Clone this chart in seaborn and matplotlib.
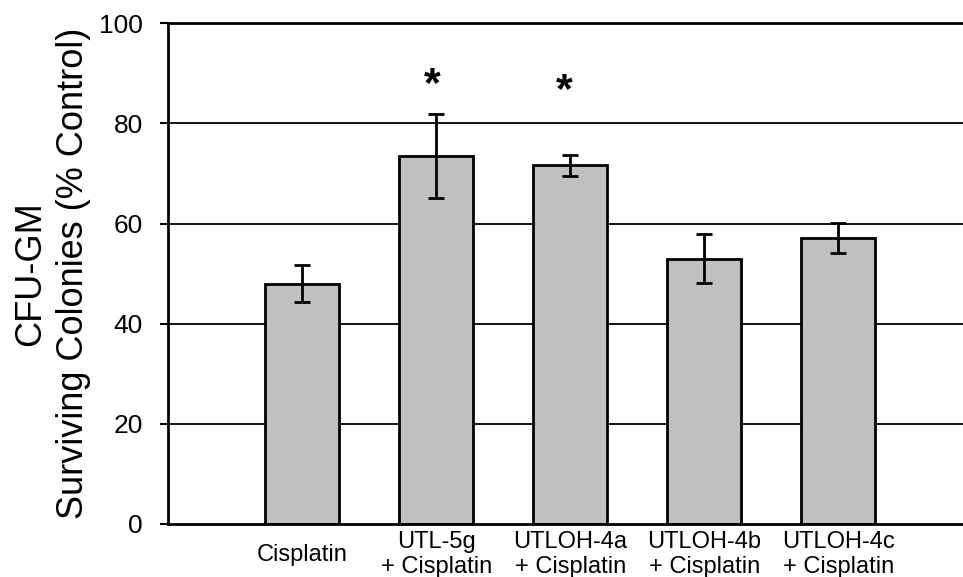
import matplotlib
matplotlib.use("Agg")
import matplotlib.pyplot as plt
import seaborn as sns

# values
groups = ["Cisplatin", "UTL-5g\n+ Cisplatin", "UTLOH-4a\n+ Cisplatin",
          "UTLOH-4b\n+ Cisplatin", "UTLOH-4c\n+ Cisplatin"]
means = [48.0, 73.5, 71.6, 53.0, 57.1]
errors = [3.7, 8.3, 2.0, 4.9, 3.0]
star_y = [None, 83.6, 82.4, None, None]
y_ticks = [0, 20, 40, 60, 80, 100]

sns.set_style("white")
plt.rcParams["font.family"] = ["Liberation Sans", "DejaVu Sans"]
plt.rcParams.update({"text.color": "black", "axes.labelcolor": "black",
                     "xtick.color": "black", "ytick.color": "black"})

fig = plt.figure(figsize=(9.63, 5.77), dpi=100)
ax = fig.add_axes([0.1745, 0.0919, 0.8255, 0.8677])

for y in y_ticks[1:-1]:
    ax.axhline(y, color="black", lw=1.3, zorder=0)

sns.barplot(x=groups, y=means, color="#c0c0c0", edgecolor="black",
            linewidth=2, width=0.552, saturation=1, ax=ax, zorder=2)
ax.errorbar(range(len(groups)), means, yerr=errors, fmt="none",
            ecolor="black", elinewidth=2, capsize=6, capthick=2, zorder=3)

for i, sy in enumerate(star_y):
    if sy is not None:
        ax.text(i - 0.03 - 0.015 * (i - 1), sy, "*", ha="center", va="bottom",
                fontsize=31, fontweight="bold")

ax.set_xlim(-1, 4.93)
ax.set_ylim(0, 100)
ax.set_yticks(y_ticks)
ax.tick_params(axis="y", direction="out", length=6, width=1.5, pad=12,
               labelsize=19, left=True)
ax.tick_params(axis="x", length=0, pad=22, labelsize=17)
plt.setp(ax.get_xticklabels(), va="center", linespacing=1.15)

for side in ["left", "bottom", "top"]:
    ax.spines[side].set_linewidth(2)
    ax.spines[side].set_color("black")
ax.spines["right"].set_visible(False)

ax.set_xlabel("")
ax.set_ylabel("CFU-GM\nSurviving Colonies (% Control)", fontsize=26,
              linespacing=1.3)
ax.yaxis.set_label_coords(-0.097, 0.5)

fig.savefig("out.png", dpi=100)
